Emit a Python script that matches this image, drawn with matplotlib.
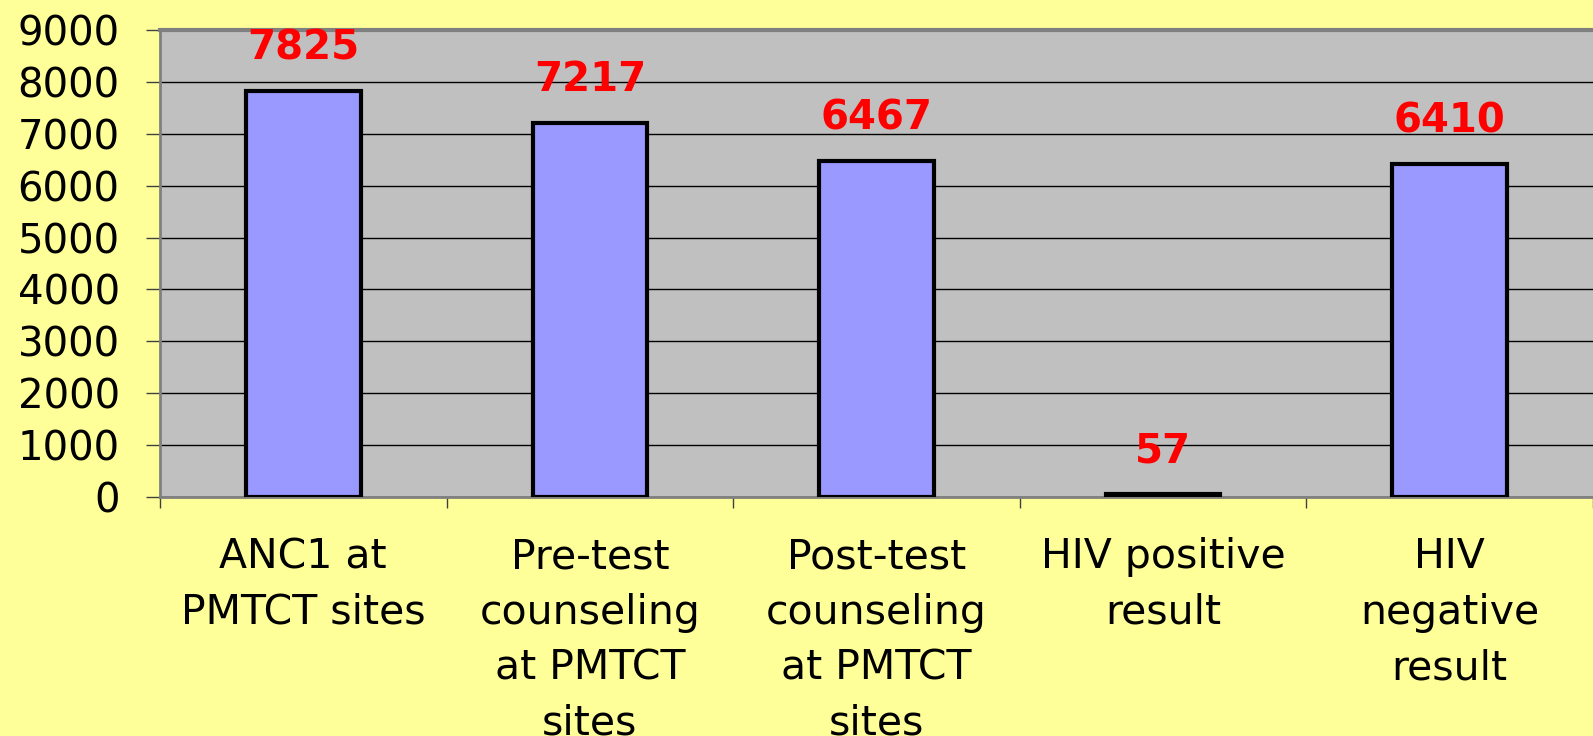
import matplotlib
matplotlib.use("Agg")
import matplotlib.pyplot as plt
import numpy as np

categories = ["ANC1 at\nPMTCT sites", "Pre-test\ncounseling\nat PMTCT\nsites",
              "Post-test\ncounseling\nat PMTCT\nsites", "HIV positive\nresult",
              "HIV\nnegative\nresult"]
values = [7825, 7217, 6467, 57, 6410]
yticks = [0, 1000, 2000, 3000, 4000, 5000, 6000, 7000, 8000, 9000]

plt.rcParams['font.family'] = ['DejaVu Sans']

fig = plt.figure(figsize=(15.93, 7.36), dpi=100, facecolor='#FFFF99')
ax = fig.add_axes([160/1593, 1-497/736, 1-160/1593, (497-30)/736])
ax.set_facecolor('#C0C0C0')

x = np.arange(len(values))
ax.set_ylim(0, 9000)
ax.set_xlim(-0.5, len(values)-0.5)
ax.set_yticks(yticks)
ax.yaxis.grid(True, color='black', linewidth=1.0)
ax.set_axisbelow(True)

bars = ax.bar(x, values, width=0.4, color='#9999FF', edgecolor='black', linewidth=3, zorder=3)

for xi, v in zip(x, values):
    ax.annotate(str(v), (xi, v), xytext=(0, 23), textcoords='offset points',
                ha='center', va='baseline', color='#FF0000', fontsize=29, fontweight='bold', zorder=4)

ax.set_xticks(x)
ax.set_xticklabels(categories, fontsize=29.5, linespacing=1.5)
ax.set_xticks(np.arange(-0.5, len(values), 1.0), minor=True)
ax.tick_params(axis='x', which='major', length=0, pad=29)
ax.tick_params(axis='x', which='minor', length=8, width=1, color='#404040', direction='out')
ax.tick_params(axis='y', which='major', length=10, width=1, color='#404040', direction='out', pad=19, labelsize=29)

ax.spines['right'].set_visible(False)
ax.spines['top'].set_color('#808080')
ax.spines['top'].set_linewidth(3)
ax.spines['left'].set_color('#808080')
ax.spines['left'].set_linewidth(2)
ax.spines['bottom'].set_color('#808080')
ax.spines['bottom'].set_linewidth(2)

fig.savefig('out.png', dpi=100, facecolor=fig.get_facecolor())
